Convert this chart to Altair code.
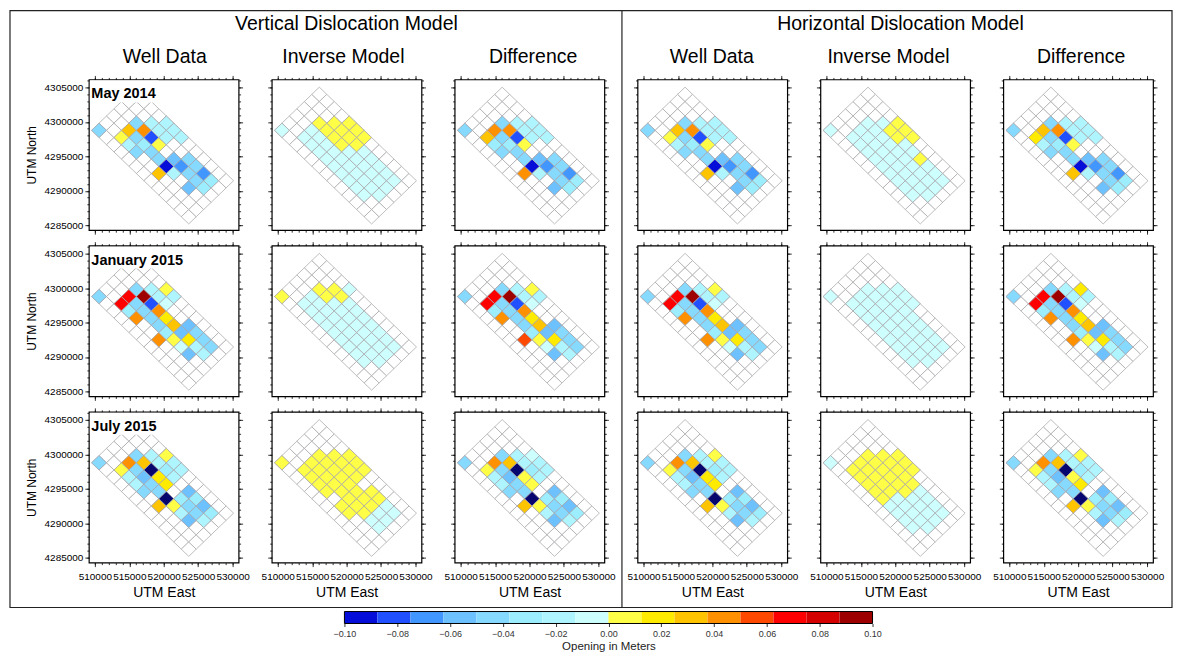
import altair as alt
import pandas as pd

FONT = "Liberation Sans"

GROUP_TITLES = ["Vertical Dislocation Model", "Horizontal Dislocation Model"]
COL_HEADS = ["Well Data", "Inverse Model", "Difference", "Well Data", "Inverse Model", "Difference"]
ROW_DATES = ["May 2014", "January 2015", "July 2015"]

X_TICKS = [510000, 515000, 520000, 525000, 530000]
Y_TICKS = [4285000, 4290000, 4295000, 4300000, 4305000]
X_MINOR = [510000 + 1000 * k for k in range(21)]
Y_MINOR = [4285000 + 1000 * k for k in range(22)]
CBAR_TICKS = [-0.10, -0.08, -0.06, -0.04, -0.02, 0.0, 0.02, 0.04, 0.06, 0.08, 0.10]

# colour classes (GMT panoply, 0.0125 m wide); '.' = no value, N/M = beyond the range
BIN_EDGES = [-0.1, -0.0875, -0.075, -0.0625, -0.05, -0.0375, -0.025, -0.0125, 0.0,
             0.0125, 0.025, 0.0375, 0.05, 0.0625, 0.075, 0.0875, 0.1]
BIN_VALUES = [-0.094, -0.081, -0.069, -0.056, -0.044, -0.031, -0.019, -0.006,
              0.006, 0.019, 0.031, 0.044, 0.056, 0.069, 0.081, 0.094]
CODE_VALUE = dict(zip("0123456789abcdef", BIN_VALUES))
CODE_VALUE["N"] = -0.11
CODE_VALUE["M"] = 0.11

PALETTE = ["#040ED8", "#2050FF", "#4196FF", "#6DC1FF", "#86D9FF", "#9CEEFF", "#AFF5FF", "#CEFFFF",
           "#FFFE47", "#FFEB00", "#FFC400", "#FF9000", "#FF4800", "#FF0000", "#D50000", "#9E0000"]
BELOW, ABOVE = "#06066E", "#7A0000"

# cell grid: rows j = 0 (south-west edge) .. 5 (north-east edge); characters i = 0 .. 12 (NW -> SE)
WELL_MAY = ["4............",
            "..864..a.....",
            "..a454406.3..",
            "..4b18.32445.",
            "...666..4425.",
            "....666......"]
WELL_JAN = ["4............",
            "..d5b..b.....",
            "..d44445873..",
            "..4f1b9a3966.",
            "...667..3444.",
            "....86......."]
WELL_JUL = ["4............",
            "..8664.a.....",
            "..b4344N863..",
            "..4aN99.5446.",
            "...6656.3535.",
            "....866......"]

INV_V_MAY = ["7............",
             "..777777777..",
             "..7777777777.",
             "..8888777777.",
             "...888877777.",
             "....888......"]
INV_V_JAN = ["8............",
             "..777777777..",
             "..7777777777.",
             "..8877777777.",
             "...887777777.",
             "....7........"]
INV_V_JUL = ["8............",
             "..8888.88....",
             "..8888888877.",
             "..8888888877.",
             "...8888.8877.",
             "....888......"]

INV_H_MAY = ["7............",
             "..777777777..",
             "..7777777777.",
             "..7777777777.",
             "...788778777.",
             "....888......"]
INV_H_JAN = ["7............",
             "..777777777..",
             "..7777777777.",
             "..7777777777.",
             "...777777777.",
             "....777......"]
INV_H_JUL = ["7............",
             "..888887777..",
             "..8888877777.",
             "..8888887777.",
             "...888887777.",
             "....888......"]

DIFF_V_MAY = ["4............",
              "..a54..b.....",
              "..b454406.3..",
              "..4b18.32445.",
              "...666..4425.",
              "....666......"]
DIFF_V_JAN = ["4............",
              "..d5b..c.....",
              "..d44445873..",
              "..4f1b9a3966.",
              "...667..3444.",
              "....86......."]
DIFF_V_JUL = ["4............",
              "..8664.a.....",
              "..b4344N863..",
              "..4aN88.5446.",
              "...6656.3535.",
              "....766......"]
DIFF_H_MAY = ["4............",
              "..964..a.....",
              "..a454406.3..",
              "..4b18.32445.",
              "...666..4425.",
              "....666......"]
DIFF_H_JAN = ["4............",
              "..d5b..b.....",
              "..d44445873..",
              "..4f1b9a3966.",
              "...667..3444.",
              "....96......."]
DIFF_H_JUL = ["4............",
              "..8664.a.....",
              "..b4344N863..",
              "..4aN89.5446.",
              "...6656.3535.",
              "....866......"]

PANELS = [
    [WELL_MAY, INV_V_MAY, DIFF_V_MAY, WELL_MAY, INV_H_MAY, DIFF_H_MAY],
    [WELL_JAN, INV_V_JAN, DIFF_V_JAN, WELL_JAN, INV_H_JAN, DIFF_H_JAN],
    [WELL_JUL, INV_V_JUL, DIFF_V_JUL, WELL_JUL, INV_H_JUL, DIFF_H_JUL],
]

# ---- geometry / styling ----
XDOM = [509130, 530870]
YDOM = [4284280, 4306160]
X0, Y0 = 510610, 4298770     # centre of cell (i=0, j=0)
HX, HY = 1085, 1045          # half diagonals of a cell
PW, PH = 150, 151
SHAPE = "M-1,0L0,-0.96L1,0L0,0.96Z"
SIZE = 225
GRID_COLOR = "#a9a6ab"
COL_SPACING = 33.2
ROW_SPACING = 15.5
PANEL_LEFTS = [87 + c * (PW + COL_SPACING) for c in range(6)]
HEAD_X = [163, 342, 532, 711, 888, 1081]
GROUP_X = [(345, 1), (900, 4)]
CBAR_LEFT, CBAR_W, CBAR_TOP, CBAR_H = 343, 529, 610, 12

FILL_SCALE = alt.Scale(type="threshold", domain=BIN_EDGES, range=[BELOW] + PALETTE + [ABOVE])


def cells(rows):
    recs = []
    for j, line in enumerate(rows):
        for i, ch in enumerate(line):
            recs.append({"x": X0 + (i + j) * HX, "y": Y0 + (j - i) * HY,
                         "v": CODE_VALUE.get(ch)})
    return pd.DataFrame(recs)


def text_layer(txt, x, y, size, weight="normal", align="center", baseline="middle"):
    return alt.Chart(pd.DataFrame({"t": [txt]})).mark_text(
        font=FONT, fontSize=size, fontWeight=weight, align=align, baseline=baseline, color="black"
    ).encode(x=alt.value(x), y=alt.value(y), text="t:N")


def axis(orient, values, size, labels=False, title=None, **kw):
    opts = dict(orient=orient, values=values, tickSize=size, tickColor="black", tickWidth=0.8,
                grid=False, domain=False, labels=labels, format="d",
                labelFont=FONT, labelFontSize=10, labelColor="black",
                labelFlush=False, labelOverlap=False, title=title,
                titleFont=FONT, titleFontWeight="normal", titleColor="black")
    opts.update(kw)
    return alt.Axis(**opts)


def panel(r, c):
    df = cells(PANELS[r][c])
    xsc = alt.Scale(domain=XDOM, nice=False, zero=False)
    ysc = alt.Scale(domain=YDOM, nice=False, zero=False)
    xl = r == 2
    yl = c == 0
    if xl:
        xb = axis("bottom", X_TICKS, 4, labels=True, title="UTM East", labelPadding=5,
                  titleFontSize=14, titlePadding=4)
    else:
        xb = axis("bottom", X_TICKS, 4)
    if yl:
        ylft = axis("left", Y_TICKS, 4, labels=True, title="UTM North", labelPadding=2,
                    titleFontSize=12, titlePadding=6)
    else:
        ylft = axis("left", Y_TICKS, 4)

    grid = alt.Chart(df).mark_point(
        shape=SHAPE, size=SIZE, filled=True, fill="white", stroke=GRID_COLOR,
        strokeWidth=0.75, opacity=1
    ).encode(x=alt.X("x:Q", scale=xsc, axis=xb), y=alt.Y("y:Q", scale=ysc, axis=ylft))

    colored = alt.Chart(df).transform_filter("isValid(datum.v)").mark_point(
        shape=SHAPE, size=SIZE, filled=True, stroke=GRID_COLOR, strokeWidth=0.75, opacity=1
    ).encode(
        x=alt.X("x:Q", scale=xsc, axis=axis("top", X_TICKS, 4)),
        y=alt.Y("y:Q", scale=ysc, axis=axis("right", Y_TICKS, 4)),
        fill=alt.Fill("v:Q", scale=FILL_SCALE, legend=None),
    )
    minor_a = alt.Chart(df).mark_point(opacity=0, size=1).encode(
        x=alt.X("x:Q", scale=xsc, axis=axis("bottom", X_MINOR, 2)),
        y=alt.Y("y:Q", scale=ysc, axis=axis("left", Y_MINOR, 2)),
    )
    minor_b = alt.Chart(df).mark_point(opacity=0, size=1).encode(
        x=alt.X("x:Q", scale=xsc, axis=axis("top", X_MINOR, 2)),
        y=alt.Y("y:Q", scale=ysc, axis=axis("right", Y_MINOR, 2)),
    )
    layers = [grid, colored, minor_a, minor_b]

    left = PANEL_LEFTS[c]
    if r == 0:
        layers.append(text_layer(COL_HEADS[c], HEAD_X[c] - left, -22, 19.5))
        for g, (gx, gc) in enumerate(GROUP_X):
            if gc == c:
                layers.append(text_layer(GROUP_TITLES[g], gx - left, -56, 19.5))
    if c == 0:
        widths = [70, 99, 72]
        box = alt.Chart(pd.DataFrame({"a": [0]})).mark_rect(fill="white").encode(
            x=alt.value(1), x2=alt.value(widths[r]), y=alt.value(1), y2=alt.value(23))
        layers.append(box)
        layers.append(text_layer(ROW_DATES[r], 2.5, 19, 14.5, weight="bold",
                                 align="left", baseline="alphabetic"))
    if r == 0 and c == 0:
        rect_df = pd.DataFrame({"a": [0]})
        layers.append(alt.Chart(rect_df).mark_rect(filled=False, stroke="#222", strokeWidth=1.2).encode(
            x=alt.value(-79), x2=alt.value(1085), y=alt.value(-69), y2=alt.value(529)))
        layers.append(alt.Chart(rect_df).mark_rule(color="#222", strokeWidth=1.2).encode(
            x=alt.value(534), y=alt.value(-69), y2=alt.value(529)))

    return alt.layer(*layers).properties(width=PW, height=PH).resolve_axis(
        x="independent", y="independent")


panels = [panel(r, c) for r in range(3) for c in range(6)]

# colour bar: first cell of a 4th grid row; its x range is shifted to sit under the middle
row3_bottom = 77 + 3 * PH + 2 * ROW_SPACING
cb_pad = CBAR_TOP - row3_bottom - ROW_SPACING
cb_x0 = CBAR_LEFT - PANEL_LEFTS[0]
cb_df = pd.DataFrame({"lo": BIN_EDGES[:-1], "hi": BIN_EDGES[1:], "v": BIN_VALUES})
cb_rects = alt.Chart(cb_df).mark_rect().encode(
    x=alt.X("lo:Q", scale=alt.Scale(domain=[-0.1, 0.1], range=[cb_x0, cb_x0 + CBAR_W],
                                    nice=False, zero=False),
            axis=alt.Axis(values=CBAR_TICKS, format=".2f", tickSize=3, tickColor="#333",
                          labelFont=FONT, labelFontSize=9, labelColor="#333", labelPadding=3,
                          labelFlush=False, labelOverlap=False, domain=False, grid=False,
                          title="Opening in Meters", titleFont=FONT, titleFontSize=11.5,
                          titleFontWeight="normal", titleColor="#222", titlePadding=2)),
    x2="hi:Q",
    y=alt.value(cb_pad), y2=alt.value(cb_pad + CBAR_H),
    fill=alt.Fill("v:Q", scale=FILL_SCALE, legend=None),
)
cb_frame = alt.Chart(pd.DataFrame({"a": [0]})).mark_rect(
    filled=False, stroke="black", strokeWidth=1
).encode(x=alt.value(cb_x0), x2=alt.value(cb_x0 + CBAR_W),
         y=alt.value(cb_pad), y2=alt.value(cb_pad + CBAR_H))
cbar = alt.layer(cb_rects, cb_frame).properties(
    width=PW, height=cb_pad + CBAR_H, view=alt.ViewBackground(stroke="transparent"))

chart = alt.concat(
    *panels, cbar, columns=6,
    spacing={"row": ROW_SPACING, "column": COL_SPACING},
    bounds="flush",
).properties(padding=0, background="white").configure(font=FONT).configure_view(
    stroke="black", strokeWidth=1.2)

chart.save("out.html", embed_options={"renderer": "svg", "actions": False})
